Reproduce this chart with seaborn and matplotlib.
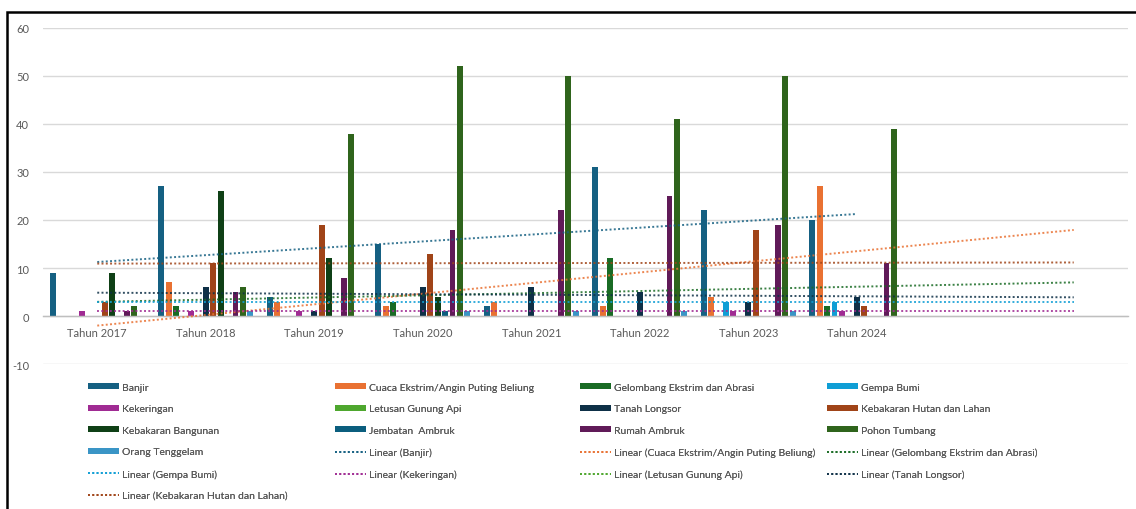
import numpy as np
import pandas as pd
import matplotlib
matplotlib.use('Agg')
import matplotlib.pyplot as plt
import seaborn as sns
from matplotlib.lines import Line2D
from matplotlib.patches import Patch, Rectangle

nan = np.nan
years = ['Tahun 2017', 'Tahun 2018', 'Tahun 2019', 'Tahun 2020',
         'Tahun 2021', 'Tahun 2022', 'Tahun 2023', 'Tahun 2024']

banjir = [9, 27, 4, 15, 2, 31, 22, 20]
cuaca = [nan, 7, 3, 2, 3, 2, 4, 27]
gelombang = [nan, 2, nan, 3, nan, 12, nan, 2]
gempa = [nan, nan, nan, nan, nan, nan, 3, 3]
kekeringan = [1, 1, 1, nan, nan, nan, 1, 1]
letusan = [nan, nan, nan, nan, nan, nan, nan, nan]
tanah_longsor = [nan, 6, 1, 6, 6, 5, 3, 4]
kebakaran_hutan = [3, 11, 19, 13, nan, nan, 18, 2]
kebakaran_bangunan = [9, 26, 12, 4, nan, nan, nan, nan]
jembatan_ambruk = [nan, nan, nan, 1, nan, nan, nan, nan]
rumah_ambruk = [1, 5, 8, 18, 22, 25, 19, 11]
pohon_tumbang = [2, 6, 38, 52, 50, 41, 50, 39]
orang_tenggelam = [nan, 1, nan, 1, 1, 1, 1, nan]

series_names = ['Banjir', 'Cuaca Ekstrim/Angin Puting Beliung', 'Gelombang Ekstrim dan Abrasi',
                'Gempa Bumi', 'Kekeringan', 'Letusan Gunung Api', 'Tanah Longsor',
                'Kebakaran Hutan dan Lahan', 'Kebakaran Bangunan', 'Jembatan  Ambruk',
                'Rumah Ambruk', 'Pohon Tumbang', 'Orang Tenggelam']
series_values = [banjir, cuaca, gelombang, gempa, kekeringan, letusan, tanah_longsor,
                 kebakaran_hutan, kebakaran_bangunan, jembatan_ambruk, rumah_ambruk,
                 pohon_tumbang, orang_tenggelam]
colors = ['#156082', '#E97132', '#196B24', '#0F9ED5', '#A02B93', '#4EA72E', '#0E3047',
          '#A04418', '#0F4016', '#0B5E7E', '#601A58', '#2F641C', '#3A95C6']

# trendlines (Excel "Linear") for the first 8 series, forecast forward in periods
trend_forward = [0, 2, 2, 2, 2, 2, 2, 2]

rows = []
for name, vals in zip(series_names, series_values):
    for yr, v in zip(years, vals):
        rows.append({'tahun': yr, 'jenis': name, 'jumlah': v})
df = pd.DataFrame(rows)

sns.set_style('white')
plt.rcParams['font.family'] = ['Lato', 'DejaVu Sans']
plt.rcParams['axes.unicode_minus'] = False

fig = plt.figure(figsize=(11.36, 5.10), dpi=100)
ax = fig.add_axes([43 / 1136, 1 - 365 / 510, 1085 / 1136, 336 / 510])

sns.barplot(data=df.dropna(), x='tahun', y='jumlah', hue='jenis', order=years,
            hue_order=series_names, palette=colors, width=0.89, gap=0.22,
            errorbar=None, legend=False, ax=ax, zorder=2, linewidth=0, edgecolor='none',
            saturation=1)

text_col = '#595959'
line_style = (0, (1, 1.2))
legend_handles = []
for name, col in zip(series_names, colors):
    legend_handles.append(Patch(facecolor=col, edgecolor='none', label=name))

for i in range(8):
    y = np.array(series_values[i], dtype=float)
    x = np.arange(len(y))
    ok = ~np.isnan(y)
    if ok.sum() >= 2:
        slope, icpt = np.polyfit(x[ok], y[ok], 1)
        xs = np.array([0, len(y) - 1 + trend_forward[i]])
        ax.plot(xs, icpt + slope * xs, color=colors[i], lw=1.4, ls=line_style,
                alpha=0.85, zorder=3)
    legend_handles.append(Line2D([], [], color=colors[i], lw=1.4, ls=line_style, alpha=0.85,
                                 label='Linear (' + series_names[i] + ')'))

ax.set_xlim(-0.5, 9.5)
ax.set_ylim(-10, 60)
ax.set_yticks(range(-10, 61, 10))
ax.yaxis.grid(True, color='#D9D9D9', lw=1)
ax.set_axisbelow(True)
ax.set_xlabel('')
ax.set_ylabel('')
for s in ['left', 'right', 'top']:
    ax.spines[s].set_visible(False)
ax.spines['bottom'].set_position(('data', 0))
ax.spines['bottom'].set_color('#BFBFBF')
ax.spines['bottom'].set_linewidth(1)
ax.tick_params(axis='x', length=0, pad=8, labelsize=8, labelcolor=text_col)
ax.tick_params(axis='y', length=0, pad=10, labelsize=8, labelcolor=text_col)

# legend: 4 columns laid out row by row, like Excel
col_x = [88, 335, 580, 827]
top_y = 1 - 384 / 510
for c in range(4):
    hs = legend_handles[c::4]
    leg = fig.legend(handles=hs, loc='upper left', bbox_to_anchor=(col_x[c] / 1136, top_y),
                     frameon=False, fontsize=7.5, labelcolor=text_col, handlelength=3.0,
                     handleheight=0.5, handletextpad=0.3, labelspacing=1.2,
                     borderpad=0, borderaxespad=0)
    fig.add_artist(leg)

fig.add_artist(Rectangle((7 / 1136, -0.1), 1.2, 1 - 13 / 510 + 0.1, transform=fig.transFigure,
                         fill=False, edgecolor='black', lw=1.8))

fig.savefig('out.png', dpi=100)
